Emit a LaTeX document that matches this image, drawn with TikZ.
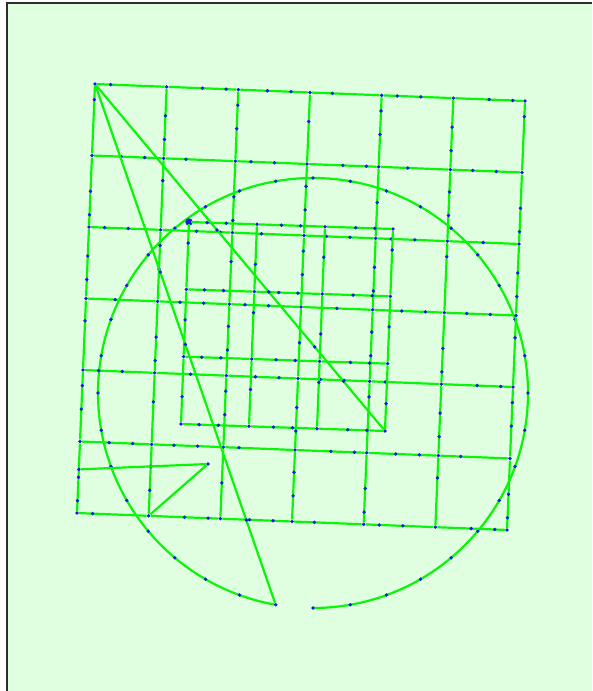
\documentclass[tikz,border=0pt]{standalone}
\usepackage{tikz}
\usetikzlibrary{calc}

\definecolor{paper}{RGB}{224,255,224}
\definecolor{edgegreen}{RGB}{10,245,10}
\definecolor{dotblue}{RGB}{25,25,230}
\definecolor{framegray}{RGB}{45,45,45}

\begin{document}
\begin{tikzpicture}[
    x=1pt, y=-1pt,
    edge/.style={draw=edgegreen, line width=2.2pt, line join=round},
    dot/.style={circle, fill=dotblue, inner sep=0pt, minimum size=3.8pt},
    bigdot/.style={circle, fill=dotblue, inner sep=0pt, minimum size=7.5pt},
]
\useasboundingbox (0,0) rectangle (592,691);
\fill[white] (0,0) rectangle (592,691);
\fill[paper] (7,3) rectangle (592,691);
\draw[framegray, line width=1.8pt] (7,691) -- (7,3) -- (592,3);

% circle through the grid
\coordinate (c) at (313,393);
\coordinate (arc-start) at ($(c)+(90:215)$);
\draw[edge] (arc-start) arc[start angle=90, end angle=-260, radius=215];
\foreach \a [count=\n] in {90,80,...,-260}
  \node[dot] (arc-\n) at ($(c)+(\a:215)$) {};

% outer grid points
\foreach \i in {0,...,6}
  \foreach \j in {0,...,6}
    \node[dot] (o-\i-\j) at ({95+71.67*\i-3*\j},{84+2.83*\i+71.5*\j}) {};

% inner grid points
\foreach \i in {0,...,3}
  \foreach \j in {0,...,3}
    \node[dot] (n-\i-\j) at ({189+68*\i-2.67*\j},{222+2.33*\i+67.33*\j}) {};
\node[bigdot] (big) at (n-0-0) {};

% outer grid edges
\foreach \i in {0,...,5}
  \foreach \j in {0,...,6}{
    \pgfmathtruncatemacro\ii{\i+1}
    \pgfmathsetmacro\p{0.2+0.1*mod(3*\i+2*\j,4)}
    \pgfmathsetmacro\q{\p+0.35}
    \pgfmathtruncatemacro\k{mod(\i+2*\j,3)}
    \draw[edge] (o-\i-\j) -- (o-\ii-\j) node[dot, pos=\p] (oh-\i-\j-a) {};
    \ifnum\k>0 \path (o-\i-\j) -- (o-\ii-\j) node[dot, pos=\q] (oh-\i-\j-b) {};\fi
  }
\foreach \i in {0,...,6}
  \foreach \j in {0,...,5}{
    \pgfmathtruncatemacro\jj{\j+1}
    \pgfmathsetmacro\p{0.2+0.1*mod(2*\i+3*\j,4)}
    \pgfmathsetmacro\q{\p+0.35}
    \pgfmathtruncatemacro\k{mod(2*\i+\j,3)}
    \draw[edge] (o-\i-\j) -- (o-\i-\jj) node[dot, pos=\p] (ov-\i-\j-a) {};
    \ifnum\k>0 \path (o-\i-\j) -- (o-\i-\jj) node[dot, pos=\q] (ov-\i-\j-b) {};\fi
  }

% inner grid edges
\foreach \i in {0,...,2}
  \foreach \j in {0,...,3}{
    \pgfmathtruncatemacro\ii{\i+1}
    \pgfmathsetmacro\p{0.25+0.1*mod(\i+3*\j,3)}
    \pgfmathsetmacro\q{\p+0.3}
    \draw[edge] (n-\i-\j) -- (n-\ii-\j) node[dot, pos=\p] (nh-\i-\j-a) {}
      node[dot, pos=\q] (nh-\i-\j-b) {};
  }
\foreach \i in {0,...,3}
  \foreach \j in {0,...,2}{
    \pgfmathtruncatemacro\jj{\j+1}
    \pgfmathsetmacro\p{0.3+0.15*mod(2*\i+\j,3)}
    \draw[edge] (n-\i-\j) -- (n-\i-\jj) node[dot, pos=\p] (nv-\i-\j-a) {};
  }

% long diagonals from the top corner
\draw[edge] (o-0-0) -- (n-3-3)
  node[dot, pos=0.42] (da-1) {} node[dot, pos=0.6] (da-2) {}
  node[dot, pos=0.76] (da-3) {} node[dot, pos=0.86] (da-4) {};
\draw[edge] (o-0-0) -- (arc-36)
  node[dot, pos=0.36] (db-1) {} node[dot, pos=0.5] (db-2) {}
  node[dot, pos=0.84] (db-3) {};

% small triangle, bottom left
\node[dot] (tri-a) at ($(o-0-5)!0.39!(o-0-6)$) {};
\node[dot] (tri-b) at (208,464) {};
\draw[edge] (tri-a) -- (tri-b) -- (o-1-6);
\end{tikzpicture}
\end{document}
